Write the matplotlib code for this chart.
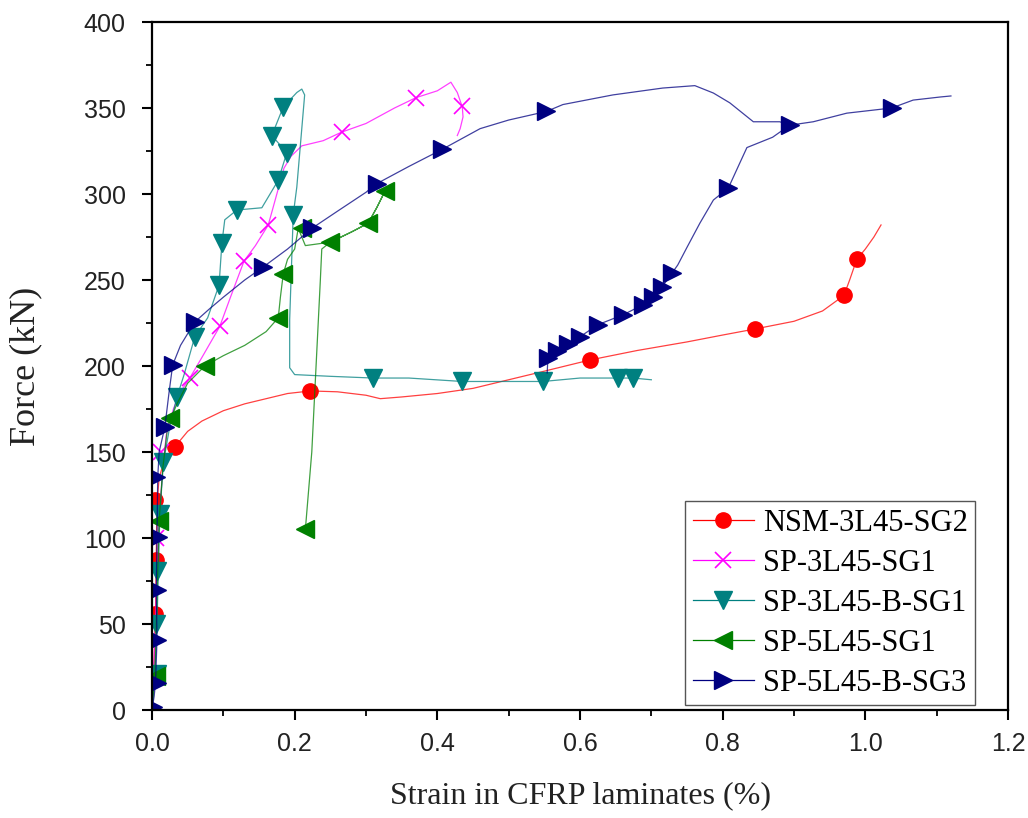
import numpy as np
import matplotlib
matplotlib.use("Agg")
import matplotlib.pyplot as plt
from matplotlib.lines import Line2D
from matplotlib.ticker import MultipleLocator, FormatStrFormatter

# Series names and colours
names = ["NSM-3L45-SG2", "SP-3L45-SG1", "SP-3L45-B-SG1", "SP-5L45-SG1", "SP-5L45-B-SG3"]
colors = ["#ff0000", "#ff00ff", "#008080", "#008000", "#000080"]
markers = ["o", "x", "v", "<", ">"]

# NSM-3L45-SG2 (red)
red_x = [0, 0.003, 0.005, 0.006, 0.007, 0.01, 0.018, 0.032, 0.05, 0.07, 0.1, 0.13, 0.16, 0.19,
         0.222, 0.26, 0.3, 0.32, 0.35, 0.4, 0.45, 0.5, 0.55, 0.614, 0.68, 0.75, 0.8, 0.845, 0.9,
         0.94, 0.97, 0.978, 0.988, 1.0, 1.012, 1.022]
red_y = [0, 30, 60, 90, 120, 135, 146, 153, 162, 168, 174, 178, 181, 184,
         185.5, 185, 183, 181, 182, 184, 187, 192, 197, 203.5, 209, 214, 218, 221.5, 226,
         232, 241, 250, 262, 268, 275, 282]
red_mx = [0.004, 0.005, 0.004, 0.032, 0.222, 0.614, 0.845, 0.97, 0.988]
red_my = [56, 87, 122, 153, 185.5, 203.5, 221.5, 241, 262]

# SP-3L45-SG1 (magenta)
mag_x = [0, 0.004, 0.007, 0.01, 0.015, 0.02, 0.03, 0.04, 0.053, 0.07, 0.095, 0.11, 0.129, 0.145,
         0.163, 0.175, 0.185, 0.195, 0.21, 0.24, 0.266, 0.3, 0.34, 0.37, 0.4, 0.419, 0.428, 0.435,
         0.436, 0.432, 0.428]
mag_y = [0, 40, 80, 110, 140, 160, 175, 185, 193, 205, 223, 240, 261, 270,
         282, 300, 315, 322, 328, 331, 336, 341, 350, 356, 360, 365, 359, 350.6,
         344.8, 338, 334]
mag_mx = [0.006, 0.012, 0.053, 0.095, 0.129, 0.163, 0.266, 0.37, 0.435]
mag_my = [100, 150, 193, 223, 261, 282, 336, 356, 351]

# SP-3L45-B-SG1 (teal)
teal_x = [0, 0.004, 0.007, 0.009, 0.011, 0.016, 0.025, 0.035, 0.045, 0.06, 0.078, 0.094, 0.098,
          0.102, 0.119, 0.154, 0.177, 0.189, 0.168, 0.184, 0.203, 0.21, 0.214, 0.203, 0.198,
          0.193, 0.193, 0.2, 0.25, 0.31, 0.36, 0.435, 0.5, 0.548, 0.6, 0.653, 0.674, 0.7]
teal_y = [0, 21, 50, 81, 114, 144, 165, 182, 195, 217, 228, 247, 271.5,
          285, 290.7, 292, 308, 324, 334, 350.6, 359, 361, 357.6, 304, 288,
          227, 199, 195, 194, 193, 193, 191, 191, 191, 193, 193, 193, 192]
teal_mx = [0.007, 0.006, 0.007, 0.011, 0.016, 0.035, 0.06, 0.094, 0.098, 0.119, 0.177, 0.189,
           0.168, 0.184, 0.198, 0.31, 0.435, 0.548, 0.653, 0.674]
teal_my = [21, 50, 81, 114, 144, 182, 217, 247, 271.5, 290.7, 308, 324,
           334, 350.6, 288, 193, 191, 191, 193, 193]

# SP-5L45-SG1 (green)
green_x = [0, 0.004, 0.006, 0.008, 0.01, 0.015, 0.022, 0.035, 0.05, 0.074, 0.1, 0.13, 0.16, 0.177,
           0.18, 0.184, 0.19, 0.2, 0.205, 0.215, 0.25, 0.28, 0.303, 0.315, 0.327,
           0.315, 0.303, 0.28, 0.25, 0.238, 0.236, 0.23, 0.224, 0.215]
green_y = [0, 20, 50, 80, 110, 140, 165, 178, 190, 200, 206, 212, 220, 228,
           240, 253.5, 262, 268, 280, 270, 272, 278, 283, 292, 302,
           292, 283, 278, 272, 268, 250, 200, 150, 105]
green_mx = [0.006, 0.01, 0.025, 0.074, 0.177, 0.184, 0.21, 0.25, 0.303, 0.327, 0.215]
green_my = [20, 110, 170, 200, 228, 253.5, 280, 272, 283, 302, 105]

# SP-5L45-B-SG3 (navy); two traces separated by a gap
blue_x = [0, 0.003, 0.005, 0.007, 0.006, 0.007, 0.008, 0.01, 0.018, 0.024, 0.029, 0.04, 0.06, 0.08,
          0.1, 0.13, 0.156, 0.19, 0.224, 0.26, 0.3, 0.315, 0.36, 0.407, 0.46, 0.5, 0.553, 0.576,
          0.646, 0.716, 0.761, 0.787, 0.81, 0.843, 0.88, 0.894, 0.927, 0.974, 1.037, 1.067, 1.105,
          1.12, np.nan,
          0.554, 0.555, 0.568, 0.583, 0.6, 0.625, 0.66, 0.688, 0.702, 0.715, 0.729, 0.737, 0.75,
          0.768, 0.787, 0.808, 0.824, 0.834, 0.87, 0.894]
blue_y = [0, 8, 16, 41, 70, 100, 135, 150, 164.5, 185, 200.6, 212, 225.6, 233,
          240, 250, 257.6, 268, 280, 290, 301, 306, 316, 326, 338, 343, 348, 352,
          357.6, 361.6, 363, 358.7, 353, 342, 342, 340, 342, 347, 350, 354.6, 356.4,
          357, np.nan,
          196, 204.6, 209, 213, 217, 224, 229.7, 235.5, 240, 246, 254, 258.7, 269,
          283, 296.5, 303.5, 318, 327, 333, 340]
blue_mx = [0.002, 0.007, 0.007, 0.007, 0.008, 0.006, 0.018, 0.029, 0.06, 0.156, 0.224, 0.315,
           0.407, 0.553, 0.894, 1.037, 0.555, 0.568, 0.583, 0.6, 0.625, 0.66, 0.688, 0.702,
           0.715, 0.729, 0.808]
blue_my = [2, 15.7, 40.7, 70, 100.5, 135.5, 164.5, 200.6, 225.6, 257.6, 280, 306,
           326, 348, 340, 350, 204.6, 209, 213, 217, 224, 229.7, 235.5, 240,
           246, 254, 303.5]

lines = [(red_x, red_y), (mag_x, mag_y), (teal_x, teal_y), (green_x, green_y), (blue_x, blue_y)]
marks = [(red_mx, red_my), (mag_mx, mag_my), (teal_mx, teal_my), (green_mx, green_my),
         (blue_mx, blue_my)]
sizes = [11, 12, 13, 13, 13]

fig = plt.figure(figsize=(10.28, 8.18), dpi=100)
ax = fig.add_axes([152 / 1028, 108 / 818, 856 / 1028, 688 / 818])

handles = []
for (lx, ly), (mx, my), c, m, s, name in zip(lines, marks, colors, markers, sizes, names):
    ax.plot(lx, ly, color=c, lw=0.9, alpha=0.75)
    if m == "x":
        ax.plot(mx, my, ls="none", marker=m, ms=s, mec=c, mew=1.2)
    else:
        ax.plot(mx, my, ls="none", marker=m, ms=s, mfc=c, mec=c)
    handles.append(Line2D([], [], color=c, lw=0.9, marker=m, ms=s, mfc=c, mec=c,
                          mew=1.2 if m == "x" else 1.0))

ax.set_xlim(0, 1.2)
ax.set_ylim(0, 400)
ax.xaxis.set_major_locator(MultipleLocator(0.2))
ax.xaxis.set_minor_locator(MultipleLocator(0.1))
ax.yaxis.set_major_locator(MultipleLocator(50))
ax.yaxis.set_minor_locator(MultipleLocator(25))
ax.xaxis.set_major_formatter(FormatStrFormatter("%.1f"))

for sp in ax.spines.values():
    sp.set_linewidth(1.6)
ax.tick_params(which="major", direction="out", length=7, width=1.5,
               labelsize=18, top=False, right=False)
ax.tick_params(axis="x", which="major", pad=9)
ax.tick_params(axis="y", which="major", pad=12)
ax.tick_params(which="minor", direction="out", length=4.5, width=1.3, top=False, right=False)
for lbl in ax.get_xticklabels() + ax.get_yticklabels():
    lbl.set_family("Liberation Sans")
    lbl.set_color("#222222")

ax.set_xlabel("Strain in CFRP laminates (%)", family="Liberation Serif", fontsize=23,
              color="#222222", labelpad=18)
ax.set_ylabel("Force (kN)", family="Liberation Serif", fontsize=26, color="#222222",
              labelpad=30)

leg = ax.legend(handles, names, loc="lower right", bbox_to_anchor=(0.962, 0.007),
                prop={"family": "Liberation Serif", "size": 22},
                frameon=True, fancybox=False, edgecolor="#555555", framealpha=1,
                handlelength=2.0, handletextpad=0.3, labelspacing=0.36, borderpad=0.25,
                borderaxespad=0)
leg.get_frame().set_linewidth(1.0)

fig.savefig("out.png", dpi=100)
